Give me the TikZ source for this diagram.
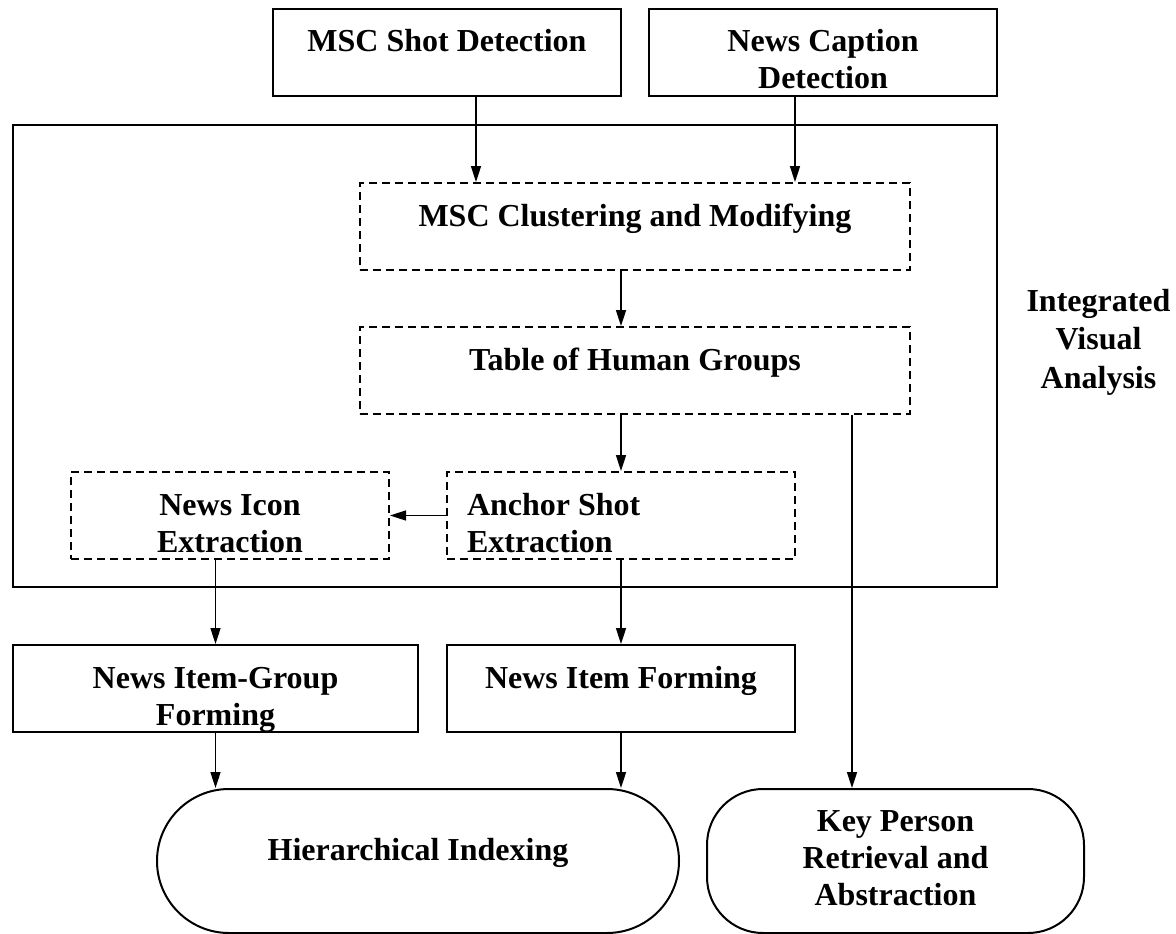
\documentclass[tikz,border=0pt]{standalone}
\usepackage{fontspec}
\setmainfont{Liberation Serif}
\usetikzlibrary{arrows.meta}
\begin{document}
\begin{tikzpicture}[x=1pt,y=-1pt,
  lbl/.style={font=\fontsize{32}{37}\selectfont\bfseries, inner sep=0pt, align=flush center},
  stage/.style={lbl, draw, line width=2pt, text height=43pt, text depth=44pt},
  substage/.style={stage, dash pattern=on 8pt off 5pt},
  terminal/.style={lbl, draw, line width=2pt, rounded corners=#1},
  flow/.style={line width=1.6pt, -{Triangle[length=16pt,width=10pt]}},
]
\useasboundingbox (0,0) rectangle (1176,934);

% frame of the integrated visual analysis stage
\node[draw, line width=2pt, minimum width=984pt, minimum height=462pt, inner sep=0pt] (vis) at (505,356) {};
\node[lbl, text width=180pt, anchor=base, font=\fontsize{32}{38.5}\selectfont\bfseries] (visname) at (1098.5,311) {Integrated\\Visual\\Analysis};

% detection stages
\node[stage, text width=348pt] (msc) at (447,52.5) {MSC Shot Detection};
\node[stage, text width=348pt] (cap) at (823,52.5) {News Caption\\Detection};

% inner analysis steps
\node[substage, text width=550pt] (clu) at (635,226.5) {MSC Clustering and Modifying};
\node[substage, text width=550pt] (tab) at (635,370.5) {Table of Human Groups};
\node[substage, text width=348pt, align=flush left] (anc) at (621,515.5) {\hspace*{20pt}Anchor Shot\\\hspace*{20pt}Extraction};
\node[substage, text width=318pt] (ico) at (230,515.5) {News Icon\\Extraction};

% forming stages
\node[stage, text width=405pt] (nig) at (215.5,688.5) {News Item-Group\\Forming};
\node[stage, text width=348pt] (nif) at (621,688.5) {News Item Forming};

% applications
\node[terminal=72pt, text width=522pt, text height=71pt, text depth=73pt] (hier) at (418,861) {Hierarchical Indexing};
\node[terminal=56pt, text width=377pt, text height=42pt, text depth=102pt] (key) at (895.5,861) {Key Person\\Retrieval and\\Abstraction};

% connectors
\draw[flow] ([xshift=29pt]msc.south) -- ([xshift=29pt]msc.south |- clu.north);
\draw[flow] ([xshift=-28pt]cap.south) -- ([xshift=-28pt]cap.south |- clu.north);
\draw[flow] (anc.north |- clu.south) -- (anc.north |- tab.north);
\draw[flow] (anc.north |- tab.south) -- (anc.north);
\draw[flow] ([xshift=-43.5pt]key.north |- tab.south) -- ([xshift=-43.5pt]key.north);
\draw[flow] (anc.west) -- (anc.west -| ico.east);
\draw[flow] (nig.north |- ico.south) -- (nig.north);
\draw[flow] (anc.south) -- (nif.north);
\draw[flow] (nig.south) -- (nig.south |- hier.north);
\draw[flow] (nif.south) -- (nif.south |- hier.north);
\end{tikzpicture}
\end{document}
